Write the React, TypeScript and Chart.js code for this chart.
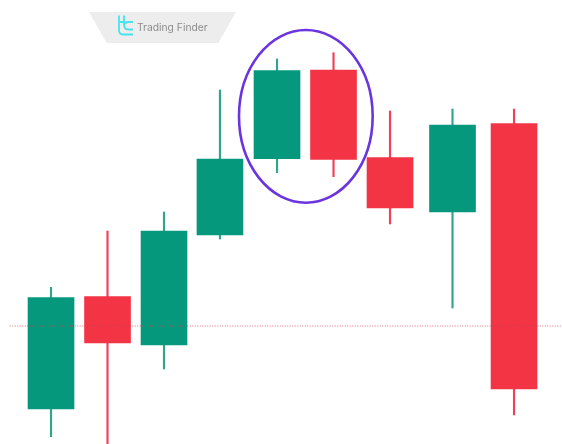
import React, { useEffect, useRef } from "react";
import { Chart, registerables } from "chart.js";

Chart.register(...registerables);

const sessions = [1, 2, 3, 3.99, 5, 6, 7, 8.106, 9.195];
const opens = [35, 147.3, 99, 209, 285.3, 374, 286.5, 232, 320.5];
const closes = [146.5, 101, 213, 285, 373.3, 284.7, 236, 319, 55];
const highs = [156.7, 213, 232, 354, 385, 391.3, 333, 335, 335];
const lows = [7.3, 0, 75, 205, 271.3, 267.3, 220, 136, 29];
const referenceLevel = [118, 118];
const referenceSpan = [0.27, 10.04];
const circledRange = { xFrom: 4.327, xTo: 6.693, yFrom: 241.3, yTo: 414 };
const brandName = "Trading Finder";

const GREEN = "#06987C";
const RED = "#F23445";
const isUp = (i: number) => closes[i] >= opens[i];

const ellipsePlugin = {
  id: "circledPattern",
  afterDatasetsDraw(chart: any) {
    const { ctx, scales } = chart;
    const x0 = scales.x.getPixelForValue(circledRange.xFrom);
    const x1 = scales.x.getPixelForValue(circledRange.xTo);
    const y0 = scales.y.getPixelForValue(circledRange.yTo);
    const y1 = scales.y.getPixelForValue(circledRange.yFrom);
    ctx.save();
    ctx.beginPath();
    ctx.ellipse((x0 + x1) / 2, (y0 + y1) / 2, (x1 - x0) / 2, (y1 - y0) / 2, 0, 0, Math.PI * 2);
    ctx.strokeStyle = "#6A35DF";
    ctx.lineWidth = 2.6;
    ctx.stroke();
    ctx.restore();
  },
};

export default function App() {
  const ref = useRef<HTMLCanvasElement | null>(null);

  useEffect(() => {
    document.body.style.margin = "0";
    document.body.style.background = "#fff";
    const chart = new Chart(ref.current as HTMLCanvasElement, {
      type: "bar",
      data: {
        datasets: [
          {
            type: "line",
            label: "Level",
            data: referenceSpan.map((x, i) => ({ x, y: referenceLevel[i] })),
            borderColor: "rgba(200,70,80,0.75)",
            borderWidth: 1,
            borderDash: [1, 1.5],
            pointRadius: 0,
            order: 0,
          },
          {
            label: "Body",
            data: sessions.map((x, i) => ({ x, y: [opens[i], closes[i]] })),
            backgroundColor: sessions.map((_, i) => (isUp(i) ? GREEN : RED)),
            barThickness: 46,
            grouped: false,
            order: 1,
          },
          {
            label: "Wick",
            data: sessions.map((x, i) => ({ x, y: [lows[i], highs[i]] })),
            backgroundColor: sessions.map((_, i) => (isUp(i) ? "#2FA58E" : "#F0405A")),
            barThickness: 1.5,
            grouped: false,
            order: 2,
          },
        ],
      } as any,
      options: {
        animation: false,
        responsive: false,
        layout: { padding: 0 },
        plugins: { legend: { display: false }, tooltip: { enabled: false }, title: { display: false } },
        scales: {
          x: { type: "linear", display: false, min: 0.097, max: 10.044, offset: false },
          y: { type: "linear", display: false, min: 0, max: 444 },
        },
      } as any,
      plugins: [ellipsePlugin],
    });
    return () => chart.destroy();
  }, []);

  return (
    <div style={{ position: "relative", width: 562, height: 444, overflow: "hidden", background: "#fff" }}>
      <canvas ref={ref} width={562} height={444} style={{ position: "absolute", left: 0, top: 0, display: "block" }} />
      <div
        style={{
          position: "absolute",
          left: 89,
          top: 12,
          width: 147,
          height: 31,
          background: "#EDEDED",
          clipPath: "polygon(0 0, 100% 0, 88% 100%, 12% 100%)",
        }}
      />
      <svg style={{ position: "absolute", left: 117, top: 14, width: 18, height: 22 }} viewBox="0 0 18 22" fill="none">
        <path
          d="M2 1.5 V16 Q2 20.5 6 20.5 H16 M7 1.5 V8 H3 M7 8 V10 Q7 15.5 11 15.5 H16 M16 8 H11 Q8.5 8 7.5 10"
          stroke="#45E3EE"
          strokeWidth="1.8"
        />
      </svg>
      <span
        style={{
          position: "absolute",
          left: 137,
          top: 20,
          fontFamily: "Inter, sans-serif",
          fontSize: 10.3,
          lineHeight: "14px",
          color: "#8C8C8C",
          whiteSpace: "nowrap",
        }}
      >
        {brandName}
      </span>
    </div>
  );
}
